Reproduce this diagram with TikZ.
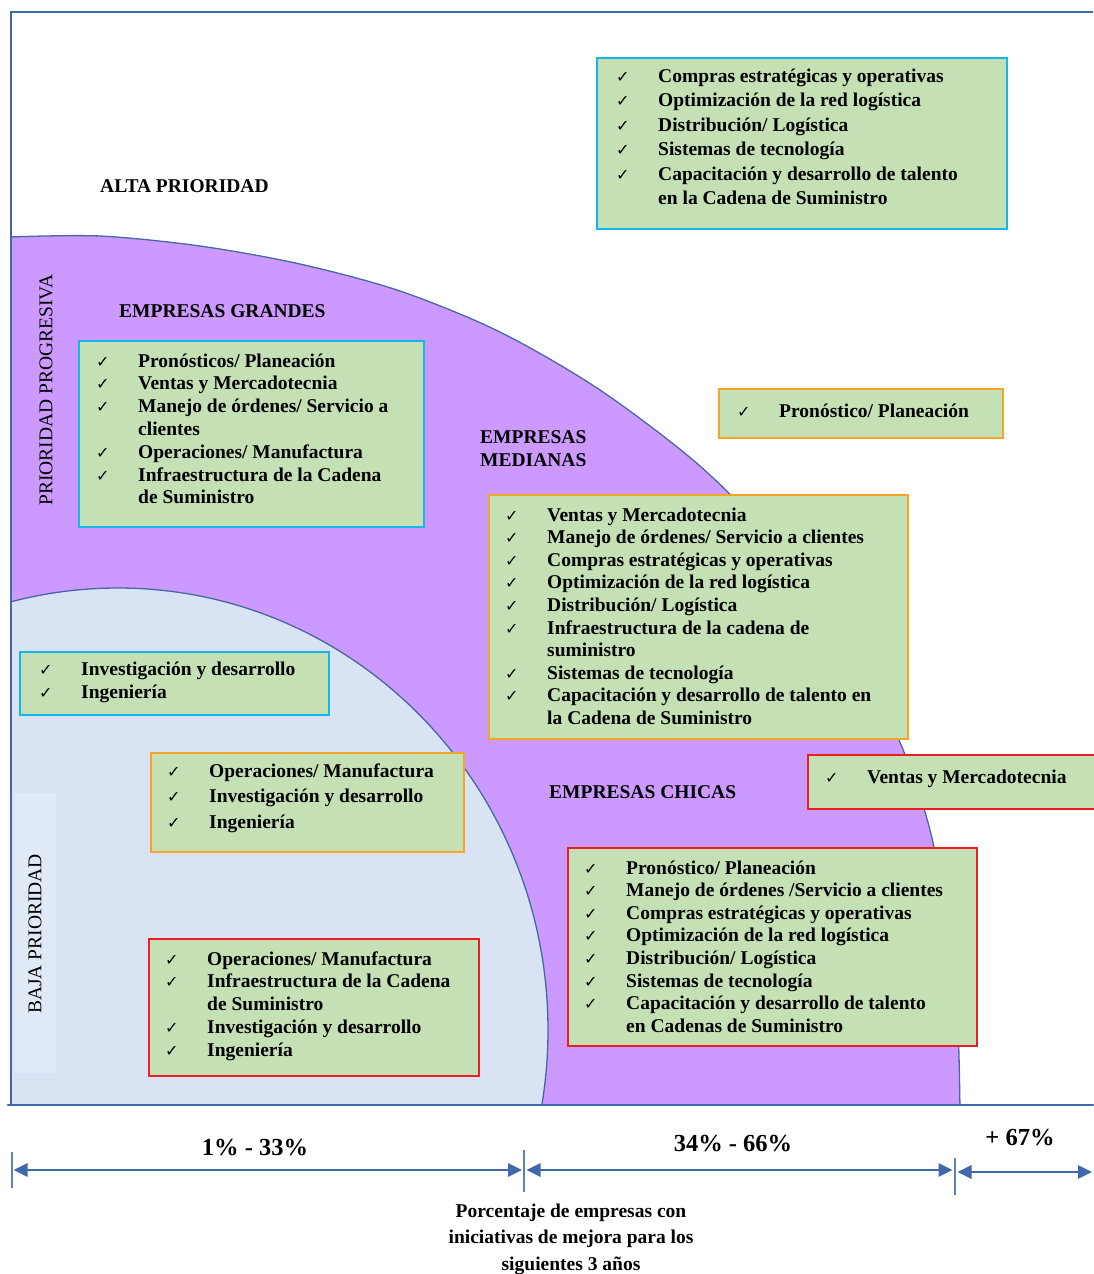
\documentclass[tikz,border=0pt]{standalone}
\usepackage{fontspec}
\setmainfont{Liberation Serif}
\newfontfamily\ckfont{DejaVu Sans}
\usetikzlibrary{arrows.meta}

\definecolor{zonePurple}{RGB}{204,153,255}
\definecolor{zoneBlue}{RGB}{218,227,243}
\definecolor{paleBand}{RGB}{223,234,246}
\definecolor{zoneEdge}{RGB}{72,104,162}
\definecolor{axisBlue}{RGB}{66,104,172}
\definecolor{boxGreen}{RGB}{197,224,180}
\definecolor{edgeCyan}{RGB}{20,182,236}
\definecolor{edgeOrange}{RGB}{246,166,38}
\definecolor{edgeRed}{RGB}{236,30,36}

% check mark and list layout
\newcommand\ck{\makebox[42pt][l]{\ckfont\fontsize{16}{16}\selectfont ✓}}
\newcommand\cont{\hspace*{42pt}}
\newcommand\lstfont[1]{\fontsize{19.5}{#1}\selectfont\bfseries}
% outline of the progressive-priority zone
\newcommand\progressiveEdge{plot[smooth, tension=0.5] coordinates {(8,237) (100,236) (200,246) (300,264) (400,291) (500,332) (600,390) (700,466) (780,548) (850,645) (899,740) (930,830) (950,940) (958,1030) (960,1112)}}

\begin{document}
\begin{tikzpicture}[x=1pt,y=-1pt,
  panel/.style={draw=#1, line width=2.4pt, fill=boxGreen, anchor=north west, inner sep=0pt},
  itemlist/.style={anchor=base west, inner sep=0pt, font=\lstfont{#1}},
  heading/.style={anchor=base west, inner sep=0pt, font=\lstfont{23}},
  sidelabel/.style={rotate=90, inner sep=0pt, font=\fontsize{19.5}{22}\selectfont},
  axisline/.style={draw=axisBlue, line width=2pt},
  tickline/.style={draw=axisBlue!85!white, line width=1.6pt},
  span/.style={draw=axisBlue, line width=2.8pt,
    {Triangle[length=14pt,width=13pt]}-{Triangle[length=14pt,width=13pt]}},
  pct/.style={anchor=base, inner sep=0pt, font=\fontsize{24.5}{28}\selectfont\bfseries}
]
\useasboundingbox (0,0) rectangle (1093,1274);
\fill[white] (0,0) rectangle (1093,1274);

% priority zones
\begin{scope}
  \clip (10,0) rectangle (1093,1105);
  \fill[zonePurple] \progressiveEdge -- (8,1112) -- cycle;
  \draw[zoneEdge, line width=1.3pt] \progressiveEdge;
  \filldraw[fill=zoneBlue, draw=zoneEdge, line width=1.3pt]
    (118,1030) ellipse [x radius=430pt, y radius=442pt];
\end{scope}
\fill[paleBand] (14,793) rectangle (56,1073);

% frame
\draw[axisline] (1093,12) -- (11,12) -- (11,1105);
\draw[axisline, line width=2.8pt, line cap=round] (8,1105) -- (1093,1105);

% side labels
\node[sidelabel] (lblProg) at (46,390) {PRIORIDAD PROGRESIVA};
\node[sidelabel] (lblBaja) at (35,934) {BAJA PRIORIDAD};

% headings
\node[heading] (hAlta) at (100,192) {ALTA PRIORIDAD};
\node[heading] (hGrandes) at (119,317) {EMPRESAS GRANDES};
\node[heading] (hMedianas) at (480,443) {\begin{tabular}[t]{@{}l@{}}EMPRESAS\\MEDIANAS\end{tabular}};
\node[heading] (hChicas) at (549,798) {EMPRESAS CHICAS};

% high priority, large companies
\node[panel=edgeCyan, minimum width=410pt, minimum height=171pt] (boxA) at (596,57) {};
\node[itemlist=24.4] (listA) at (616,82.5) {\begin{tabular}[t]{@{}l@{}}
\ck Compras estratégicas y operativas\\
\ck Optimización de la red logística\\
\ck Distribución/ Logística\\
\ck Sistemas de tecnología\\
\ck Capacitación y desarrollo de talento\\
\cont en la Cadena de Suministro
\end{tabular}};

% progressive priority, large companies
\node[panel=edgeCyan, minimum width=345pt, minimum height=186pt] (boxB) at (78,340) {};
\node[itemlist=22.8] (listB) at (96,367) {\begin{tabular}[t]{@{}l@{}}
\ck Pronósticos/ Planeación\\
\ck Ventas y Mercadotecnia\\
\ck Manejo de órdenes/ Servicio a\\
\cont clientes\\
\ck Operaciones/ Manufactura\\
\ck Infraestructura de la Cadena\\
\cont de Suministro
\end{tabular}};

% medium companies
\node[panel=edgeOrange, minimum width=284pt, minimum height=49pt] (boxC) at (718,388) {};
\node[itemlist=22.6] (listC) at (737,417) {\ck Pronóstico/ Planeación};

\node[panel=edgeOrange, minimum width=419pt, minimum height=244pt] (boxD) at (488,494) {};
\node[itemlist=22.6] (listD) at (505,521) {\begin{tabular}[t]{@{}l@{}}
\ck Ventas y Mercadotecnia\\
\ck Manejo de órdenes/ Servicio a clientes\\
\ck Compras estratégicas y operativas\\
\ck Optimización de la red logística\\
\ck Distribución/ Logística\\
\ck Infraestructura de la cadena de\\
\cont suministro\\
\ck Sistemas de tecnología\\
\ck Capacitación y desarrollo de talento en\\
\cont la Cadena de Suministro
\end{tabular}};

% low priority
\node[panel=edgeCyan, minimum width=309pt, minimum height=63pt] (boxE) at (19,651) {};
\node[itemlist=23] (listE) at (39,675) {\begin{tabular}[t]{@{}l@{}}
\ck Investigación y desarrollo\\
\ck Ingeniería
\end{tabular}};

\node[panel=edgeOrange, minimum width=313pt, minimum height=99pt] (boxF) at (150,752) {};
\node[itemlist=25.5] (listF) at (167,777) {\begin{tabular}[t]{@{}l@{}}
\ck Operaciones/ Manufactura\\
\ck Investigación y desarrollo\\
\ck Ingeniería
\end{tabular}};

\node[panel=edgeRed, minimum width=330pt, minimum height=137pt] (boxG) at (148,938) {};
\node[itemlist=22.8] (listG) at (165,965) {\begin{tabular}[t]{@{}l@{}}
\ck Operaciones/ Manufactura\\
\ck Infraestructura de la Cadena\\
\cont de Suministro\\
\ck Investigación y desarrollo\\
\ck Ingeniería
\end{tabular}};

% small companies
\node[panel=edgeRed, minimum width=300pt, minimum height=54pt] (boxH) at (807,754) {};
\node[itemlist=22.6] (listH) at (825,783) {\ck Ventas y Mercadotecnia};

\node[panel=edgeRed, minimum width=409pt, minimum height=198pt] (boxI) at (567,847) {};
\node[itemlist=22.6] (listI) at (584,874) {\begin{tabular}[t]{@{}l@{}}
\ck Pronóstico/ Planeación\\
\ck Manejo de órdenes /Servicio a clientes\\
\ck Compras estratégicas y operativas\\
\ck Optimización de la red logística\\
\ck Distribución/ Logística\\
\ck Sistemas de tecnología\\
\ck Capacitación y desarrollo de talento\\
\cont en Cadenas de Suministro
\end{tabular}};

% percentage scale
\coordinate (k0) at (12,1170);
\coordinate (k1) at (524,1170);
\coordinate (k2) at (955,1170);
\coordinate (k2r) at (955,1172);
\coordinate (k3) at (1092,1172);
\coordinate (k0t) at (12,1152);  \coordinate (k0b) at (12,1188);
\coordinate (k1t) at (524,1150); \coordinate (k1b) at (524,1192);
\coordinate (k2t) at (955,1158); \coordinate (k2b) at (955,1195);
\draw[tickline] (k0t) -- (k0b);
\draw[tickline] (k1t) -- (k1b);
\draw[tickline] (k2t) -- (k2b);
\draw[span, shorten <=1.5pt, shorten >=2pt] (k0) -- (k1);
\draw[span, shorten <=2.5pt, shorten >=2.5pt] (k1) -- (k2);
\draw[span, shorten <=2.5pt] (k2r) -- (k3);

\node[pct] (p1) at (255,1155) {1\% - 33\%};
\node[pct] (p2) at (733,1151) {34\% - 66\%};
\node[pct] (p3) at (1020,1145) {+ 67\%};

\node[anchor=base, inner sep=0pt, font=\lstfont{26.5}] (caption) at (571,1217)
  {\begin{tabular}[t]{@{}c@{}}Porcentaje de empresas con\\iniciativas de mejora para los\\siguientes 3 años\end{tabular}};
\end{tikzpicture}
\end{document}
